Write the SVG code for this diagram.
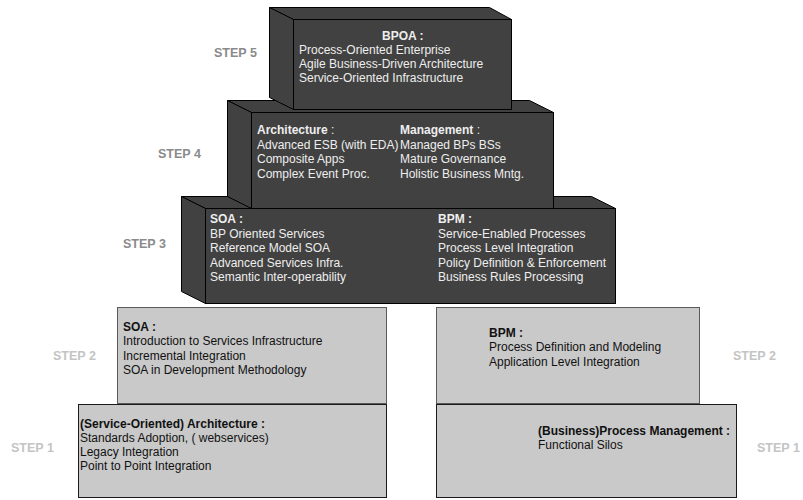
<svg xmlns="http://www.w3.org/2000/svg" width="803" height="500" viewBox="0 0 803 500">
<style>
.dk{fill:#414141;stroke:#000;stroke-width:1;stroke-linejoin:miter}
.lt2{fill:#c9c9c9;stroke:#5a5a5a;stroke-width:1}
.lt1{fill:#c9c9c9;stroke:#1a1a1a;stroke-width:1}
text{font-family:"Liberation Sans",Arial,sans-serif;font-size:12px}
.w{fill:#eeeeee}
.k{fill:#111}
.b{font-weight:bold}
.s1{font-family:"Liberation Sans",Arial,sans-serif;font-size:12.5px;font-weight:bold;fill:#8a8a8a}
.s2{font-family:"Liberation Sans",Arial,sans-serif;font-size:12.5px;font-weight:bold;fill:#c4c4c4}
</style>
<rect width="803" height="500" fill="#fff"/>
<g id="step1-soa">
<rect class="lt1" x="78.5" y="404.5" width="308" height="93"/>
<text class="k b" x="80" y="428">(Service-Oriented) Architecture :</text>
<text class="k" x="80" y="442">Standards Adoption, ( webservices)</text>
<text class="k" x="80" y="456">Legacy Integration</text>
<text class="k" x="80" y="470">Point to Point Integration</text>
</g>
<g id="step1-bpm">
<rect class="lt1" x="436.5" y="404.5" width="300" height="93"/>
<text class="k b" x="538" y="435">(Business)Process Management :</text>
<text class="k" x="538" y="449">Functional Silos</text>
</g>
<g id="step2-soa">
<rect class="lt2" x="117.5" y="307.5" width="269" height="96"/>
<text class="k b" x="123" y="331">SOA :</text>
<text class="k" x="123" y="345">Introduction to Services Infrastructure</text>
<text class="k" x="123" y="360">Incremental Integration</text>
<text class="k" x="123" y="374">SOA in Development Methodology</text>
</g>
<g id="step2-bpm">
<rect class="lt2" x="436.5" y="307.5" width="263" height="96"/>
<text class="k b" x="489" y="337">BPM :</text>
<text class="k" x="489" y="351">Process Definition and Modeling</text>
<text class="k" x="489" y="366">Application Level Integration</text>
</g>
<g id="step3">
<polygon class="dk" points="181.5,196.5 591.5,196.5 615.5,208.5 205.5,208.5"/>
<polygon class="dk" points="181.5,196.5 205.5,208.5 205.5,303.5 181.5,291.5"/>
<rect class="dk" x="205.5" y="208.5" width="410" height="95"/>
<text class="w b" x="210" y="223">SOA :</text>
<text class="w" x="210" y="238">BP Oriented Services</text>
<text class="w" x="210" y="252">Reference Model SOA</text>
<text class="w" x="210" y="267">Advanced Services Infra.</text>
<text class="w" x="210" y="281">Semantic Inter-operability</text>
<text class="w b" x="438" y="223">BPM :</text>
<text class="w" x="438" y="238">Service-Enabled Processes</text>
<text class="w" x="438" y="252">Process Level Integration</text>
<text class="w" x="438" y="267">Policy Definition &amp; Enforcement</text>
<text class="w" x="438" y="281">Business Rules Processing</text>
</g>
<g id="step4">
<polygon class="dk" points="227.5,100.5 529.5,100.5 553.5,112.5 251.5,112.5"/>
<polygon class="dk" points="227.5,100.5 251.5,112.5 251.5,208.5 227.5,196.5"/>
<rect class="dk" x="251.5" y="112.5" width="302" height="96"/>
<text class="w" x="257" y="134"><tspan class="b">Architecture</tspan> :</text>
<text class="w" x="257" y="149">Advanced ESB (with EDA)</text>
<text class="w" x="257" y="163">Composite Apps</text>
<text class="w" x="257" y="178">Complex Event Proc.</text>
<text class="w" x="400" y="134"><tspan class="b">Management</tspan> :</text>
<text class="w" x="400" y="149">Managed BPs BSs</text>
<text class="w" x="400" y="163">Mature Governance</text>
<text class="w" x="400" y="178">Holistic Business Mntg.</text>
</g>
<g id="step5">
<polygon class="dk" points="269.5,7.5 489.5,7.5 511.5,19.5 293.5,19.5"/>
<polygon class="dk" points="269.5,7.5 293.5,19.5 293.5,109.5 269.5,97.5"/>
<rect class="dk" x="293.5" y="19.5" width="218" height="90"/>
<text class="w b" x="382" y="40">BPOA :</text>
<text class="w" x="299" y="54">Process-Oriented Enterprise</text>
<text class="w" x="299" y="68">Agile Business-Driven Architecture</text>
<text class="w" x="299" y="82">Service-Oriented Infrastructure</text>
</g>
<g id="labels">
<text class="s1" x="214" y="57">STEP 5</text>
<text class="s1" x="158" y="158">STEP 4</text>
<text class="s1" x="123" y="248">STEP 3</text>
<text class="s2" x="53" y="360">STEP 2</text>
<text class="s2" x="733" y="360">STEP 2</text>
<text class="s2" x="11" y="452">STEP 1</text>
<text class="s2" x="757" y="452">STEP 1</text>
</g>
<g id="connectors"/>
</svg>
